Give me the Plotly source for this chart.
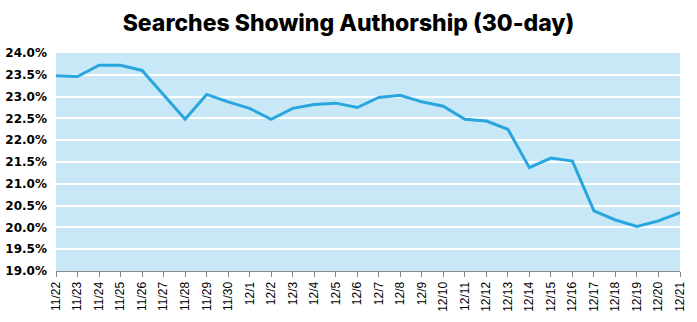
import plotly.graph_objects as go

dates = ["11/22","11/23","11/24","11/25","11/26","11/27","11/28","11/29","11/30",
         "12/1","12/2","12/3","12/4","12/5","12/6","12/7","12/8","12/9","12/10",
         "12/11","12/12","12/13","12/14","12/15","12/16","12/17","12/18","12/19","12/20","12/21"]
values = [23.48, 23.46, 23.72, 23.72, 23.60, 23.04, 22.48, 23.05, 22.88,
          22.73, 22.48, 22.73, 22.82, 22.85, 22.75, 22.98, 23.03, 22.88, 22.78,
          22.48, 22.44, 22.25, 21.37, 21.59, 21.52, 20.38, 20.17, 20.02, 20.15, 20.34]
y_ticks = [19.0, 19.5, 20.0, 20.5, 21.0, 21.5, 22.0, 22.5, 23.0, 23.5, 24.0]

fig = go.Figure()
fig.add_trace(go.Scatter(
    x=list(range(len(dates))), y=values, mode="lines",
    line=dict(color="#29a6de", width=3),
    hoverinfo="skip",
))

fig.update_layout(
    width=697, height=322,
    margin=dict(l=56, r=17, t=53, b=51),
    paper_bgcolor="white",
    plot_bgcolor="#c9e8f7",
    showlegend=False,
    title=dict(text="Searches Showing Authorship (30-day)",
               x=0.5, xanchor="center", y=0.93, yanchor="middle",
               font=dict(family="Inter", size=23, color="black", weight=800)),
)
fig.update_xaxes(
    range=[0, len(dates) - 1],
    tickmode="array", tickvals=list(range(len(dates))), ticktext=dates,
    tickangle=-90, ticks="outside", ticklen=5, tickcolor="#888888",
    showline=True, linecolor="#888888", linewidth=1,
    showgrid=False, zeroline=False, automargin=False,
    tickfont=dict(family="Liberation Sans", size=12, color="black"),
)
fig.update_yaxes(
    range=[19.0, 24.0],
    tickmode="array", tickvals=y_ticks,
    ticktext=[f"{v:.1f}%" for v in y_ticks],
    showgrid=True, gridcolor="white", gridwidth=1.5,
    zeroline=False, showline=False, ticks="", automargin=False,
    tickfont=dict(family="DejaVu Sans", size=12, color="black", weight="bold"),
    ticklabelstandoff=8,
)

fig.write_html("out.html")
